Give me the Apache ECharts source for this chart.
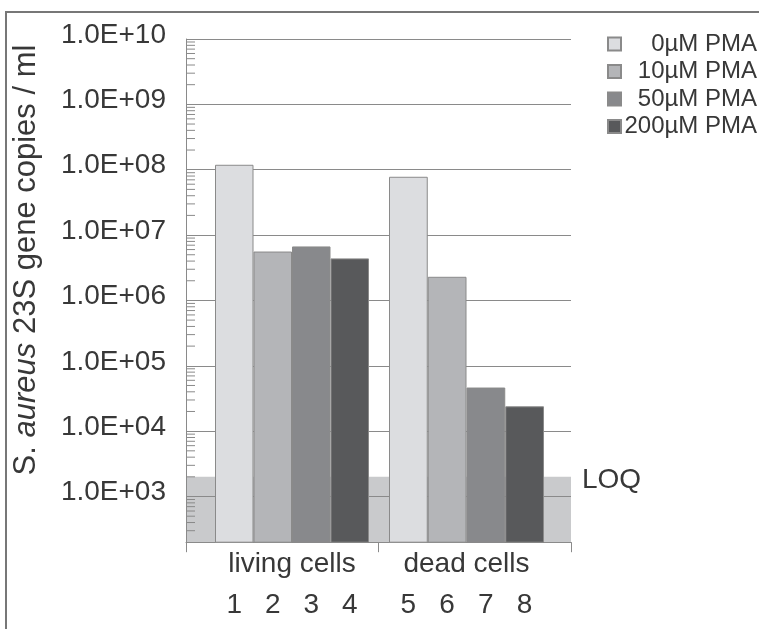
<!DOCTYPE html>
<html><head><meta charset="utf-8">
<script src="https://cdn.jsdelivr.net/npm/echarts@6/dist/echarts.min.js"></script>
<style>html,body{margin:0;padding:0;background:#fff}#c{width:759px;height:629px}</style>
</head><body><div id="c"></div>
<script>
const seriesNames = ['0µM PMA', '10µM PMA', '50µM PMA', '200µM PMA'];
const groupNames = ['living cells', 'dead cells'];
const livingSamples = ['1', '2', '3', '4'];
const deadSamples = ['5', '6', '7', '8'];
const livingValues = [1.19e8, 5.6e6, 6.7e6, 4.4e6];
const deadValues = [7.8e7, 2.3e6, 4.65e4, 2.4e4];
const loqValue = 2000;
const yMin = 200, yMax = 1e10;
const minorMultipliers = [2, 3, 4, 5, 6, 7, 8, 9];
const decadeExponents = [2, 3, 4, 5, 6, 7, 8, 9];
const yTitle = '{n|S. }{i|aureus}{n| 23S gene copies / ml}';

const FONT = '"Liberation Sans", Arial, sans-serif';
const TXT = '#383838';
const LINE = '#8a8a8a';
const colors = ['#dcdde0', '#b4b5b8', '#88898c', '#58595b'];

const minorTickValues = decadeExponents
  .flatMap(e => minorMultipliers.map(m => m * Math.pow(10, e)))
  .filter(v => v > yMin && v < yMax);

const gridTop = 39, gridBottom = 86.8;
const grids = [
  { left: 186, right: 188, top: gridTop, bottom: gridBottom, outerBoundsMode: 'none' },
  { left: 215, width: 154, top: gridTop, bottom: gridBottom, outerBoundsMode: 'none' },
  { left: 389, width: 155, top: gridTop, bottom: gridBottom, outerBoundsMode: 'none' }
];

function yAx(gi, show) {
  return {
    type: 'log', logBase: 10, gridIndex: gi, min: yMin, max: yMax, show: show, z: 3,
    axisLine: { show: true, lineStyle: { color: LINE, width: 1 } },
    axisTick: { show: false },
    splitLine: { show: true, lineStyle: { color: LINE, width: 1 } },
    axisLabel: {
      fontFamily: FONT, fontSize: 28, color: TXT, margin: 20,
      verticalAlign: 'bottom', lineHeight: 8,
      formatter: v => {
        const e = Math.round(Math.log10(v));
        if (Math.abs(Math.log10(v) - e) > 1e-6) return '';
        return '1.0E+' + (e < 10 ? '0' + e : '' + e);
      }
    }
  };
}

function sampleX(gi, cats) {
  return {
    type: 'category', gridIndex: gi, data: cats, position: 'bottom',
    axisLine: { show: false }, axisTick: { show: false }, splitLine: { show: false },
    axisLabel: { fontFamily: FONT, fontSize: 28, color: TXT, margin: 49 }
  };
}
function groupX(gi, label) {
  return {
    type: 'category', gridIndex: gi, data: [label], position: 'bottom',
    axisLine: { show: false }, axisTick: { show: false }, splitLine: { show: false },
    axisLabel: { fontFamily: FONT, fontSize: 28, color: TXT, margin: 8 }
  };
}

const barSeries = [];
[[livingSamples, livingValues, 1], [deadSamples, deadValues, 2]].forEach(([cats, vals, gi]) => {
  seriesNames.forEach((name, k) => {
    barSeries.push({
      type: 'bar', name: name, xAxisIndex: gi, yAxisIndex: gi, z: 5,
      barWidth: '100%', barGap: '-100%',
      itemStyle: { color: colors[k], borderColor: LINE, borderWidth: 1 },
      emphasis: { disabled: true },
      data: cats.map((c, i) => (i === k ? vals[i] : '-'))
    });
  });
});

const option = {
  animation: false,
  backgroundColor: '#ffffff',
  textStyle: { fontFamily: FONT },
  grid: grids,
  legend: {
    data: seriesNames, orient: 'vertical', left: 602, top: 27,
    itemWidth: 13, itemHeight: 13, itemGap: 3.5, icon: 'rect',
    formatter: n => '{t|' + n + '}',
    textStyle: {
      fontFamily: FONT, color: TXT,
      rich: { t: { width: 131, align: 'right', fontSize: 24, lineHeight: 22, fontFamily: FONT, color: TXT } }
    },
    selectedMode: false
  },
  xAxis: [
    {
      type: 'category', gridIndex: 0, data: groupNames, boundaryGap: true,
      axisLine: { show: true, lineStyle: { color: LINE, width: 1 } },
      axisTick: { show: true, length: 10, lineStyle: { color: LINE, width: 1 } },
      axisLabel: { show: false }, splitLine: { show: false }
    },
    sampleX(1, livingSamples),
    sampleX(2, deadSamples),
    groupX(1, groupNames[0]),
    groupX(2, groupNames[1])
  ],
  yAxis: [yAx(0, true), yAx(1, false), yAx(2, false)],
  series: [
    {
      type: 'custom', name: 'minor ticks', xAxisIndex: 0, yAxisIndex: 0, z: 2, silent: true,
      data: minorTickValues.map(v => [0, v]),
      renderItem: (params, api) => {
        const p = api.coord([0, api.value(1)]);
        const x0 = params.coordSys.x;
        return { type: 'line', shape: { x1: x0, y1: p[1], x2: x0 + 9, y2: p[1] }, style: { stroke: LINE, lineWidth: 1 } };
      },
      markArea: {
        silent: true,
        itemStyle: { color: '#c9cacc' },
        label: { show: true, position: 'right', distance: 11, offset: [0, -29], formatter: 'LOQ', fontSize: 28, fontFamily: FONT, color: TXT },
        data: [[{ yAxis: yMin }, { yAxis: loqValue }]]
      }
    }
  ].concat(barSeries),
  graphic: [
    { type: 'polyline', silent: true, shape: { points: [[6, 629], [6, 12], [759, 12]] }, style: { stroke: '#777', lineWidth: 2, fill: null } },
    {
      type: 'text', x: 26, y: 260, rotation: Math.PI / 2, silent: true,
      style: {
        text: yTitle, align: 'center', verticalAlign: 'middle',
        fontFamily: FONT, fontSize: 31, fill: TXT,
        rich: {
          n: { fontFamily: FONT, fontSize: 31, fill: TXT, color: TXT },
          i: { fontFamily: FONT, fontSize: 31, fontStyle: 'italic', fill: TXT, color: TXT }
        }
      }
    }
  ]
};

const chart = echarts.init(document.getElementById('c'), null, { renderer: 'canvas' });
chart.setOption(option);
</script></body></html>
